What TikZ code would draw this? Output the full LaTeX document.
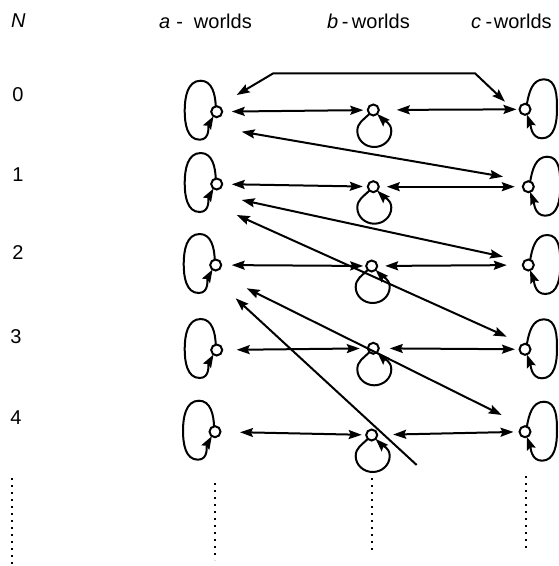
\documentclass[tikz,border=0pt]{standalone}
\usepackage{fontspec}
\setmainfont{Liberation Sans}
\usetikzlibrary{arrows.meta}
\begin{document}
\begin{tikzpicture}[x=1pt,y=1pt,
  >={Stealth[length=13pt,width=9pt,inset=2pt]},
  lw/.style={line width=2pt},
  world/.style={circle,draw,line width=2pt,minimum size=11pt,inner sep=0pt,outer sep=0pt},
  lbl/.style={inner sep=0pt,font=\fontsize{20}{24}\selectfont},
  dots/.style={line width=2pt,dash pattern=on 2pt off 5pt},
  link/.style={lw,<->},
  arr/.style={lw,->}]
\useasboundingbox (0,0) rectangle (558,-566);
% header
\node[lbl,anchor=base west] (hN) at (11,-27) {\itshape N};
\node[lbl,anchor=base west] (ha) at (159,-28.6) {\itshape a\hspace{6pt}\upshape-\hspace{11pt}worlds};
\node[lbl,anchor=base west] (hb) at (327,-28.6) {\itshape b\hspace{3.5pt}\upshape-\hspace{3.5pt}worlds};
\node[lbl,anchor=base west] (hc) at (471,-28.6) {\itshape c\hspace{4.5pt}\upshape-\hspace{1.5pt}worlds};
% row numbers
\node[lbl] (r0) at (18,-95) {0};
\node[lbl] (r1) at (18,-175) {1};
\node[lbl] (r2) at (18,-253) {2};
\node[lbl] (r3) at (16,-337) {3};
\node[lbl] (r4) at (16,-418) {4};
% worlds
\node[world] (a0) at (216.7,-111.7) {};
\node[world] (a1) at (216.7,-184) {};
\node[world] (a2) at (215.7,-265) {};
\node[world] (a3) at (216.7,-350) {};
\node[world] (a4) at (215,-431.7) {};
\node[world] (b0) at (373.3,-110) {};
\node[world] (b1) at (373.3,-186.7) {};
\node[world] (b2) at (371.7,-266) {};
\node[world] (b3) at (373.3,-348.3) {};
\node[world] (b4) at (371.7,-435) {};
\node[world] (c0) at (525,-109.3) {};
\node[world] (c1) at (528.3,-186.7) {};
\node[world] (c2) at (528.3,-265) {};
\node[world] (c3) at (525,-349.3) {};
\node[world] (c4) at (525,-431.7) {};
% loops
\foreach \n in {a0,a1,a2,a3,a4}{
  \draw[arr] (\n.100) to[out=92,in=0] ([shift={(-16,31)}]\n.center)
    to[out=180,in=90] ([shift={(-32,1)}]\n.center)
    to[out=270,in=180] ([shift={(-17,-28)}]\n.center)
    to[out=0,in=240] (\n.235);
}
\foreach \n in {b0,b1,b2,b3,b4}{
  \draw[arr] (\n.225) to[out=225,in=90] ([shift={(-16,-21)}]\n.center)
    to[out=270,in=180] ([shift={(1,-37)}]\n.center)
    to[out=0,in=270] ([shift={(18,-21)}]\n.center)
    to[out=90,in=315] (\n.315);
}
\foreach \n in {c0,c1,c2,c3,c4}{
  \draw[arr] (\n.70) to[out=80,in=180] ([shift={(19,30)}]\n.center)
    to[out=0,in=90] ([shift={(32,0)}]\n.center)
    to[out=270,in=0] ([shift={(17,-29)}]\n.center)
    to[out=180,in=290] (\n.290);
}
% horizontal links
\draw[link,shorten <=9.5pt,shorten >=4.5pt] (a0) -- (b0);
\draw[link,shorten <=18pt,shorten >=3pt] (b0) -- (c0);
\draw[link,shorten <=9.5pt,shorten >=5pt] (a1) -- (b1);
\draw[link,shorten <=8pt,shorten >=8pt] (b1) -- (c1);
\draw[link,shorten <=10.5pt,shorten >=3pt] (a2) -- (b2);
\draw[link,shorten <=8pt,shorten >=16pt] (b2) -- (c2);
\draw[link,shorten <=14.5pt,shorten >=8pt] (a3) -- (b3);
\draw[link,shorten <=11pt,shorten >=4.5pt] (b3) -- (c3);
\draw[link,shorten <=19.5pt,shorten >=4.5pt] (a4) -- (b4);
\draw[link,shorten <=16pt,shorten >=6pt] (b4) -- (c4);
% top bent link
\coordinate (tl) at (273.3,-73.3);
\coordinate (tr) at (475,-73.3);
\draw[link] ([shift={(20,16.7)}]a0.center) -- (tl) -- (tr) -- ([shift={(-20,7.6)}]c0.center);
% diagonal links
\draw[link] ([shift={(25,-20)}]a0.center) -- ([shift={(-25.3,10)}]c1.center);
\draw[link] ([shift={(25,-16)}]a1.center) -- ([shift={(-25.3,8.3)}]c2.center);
\draw[link] ([shift={(20,-31)}]a1.center) -- ([shift={(-18.3,12.6)}]c3.center);
\draw[link] ([shift={(31,-23.3)}]a2.center) -- ([shift={(-23.3,16.7)}]c4.center);
\coordinate (e) at (416.7,-465);
\draw[arr] (e) -- ([shift={(20,-33.3)}]a2.center);
% dotted continuations
\coordinate (dN1) at (12,-478); \coordinate (dN2) at (12,-566);
\coordinate (da1) at (215,-483); \coordinate (da2) at (215,-560);
\coordinate (db1) at (372,-478); \coordinate (db2) at (372,-554);
\coordinate (dc1) at (526,-476); \coordinate (dc2) at (526,-552);
\draw[dots] (dN1) -- (dN2);
\draw[dots] (da1) -- (da2);
\draw[dots] (db1) -- (db2);
\draw[dots] (dc1) -- (dc2);
\end{tikzpicture}
\end{document}
